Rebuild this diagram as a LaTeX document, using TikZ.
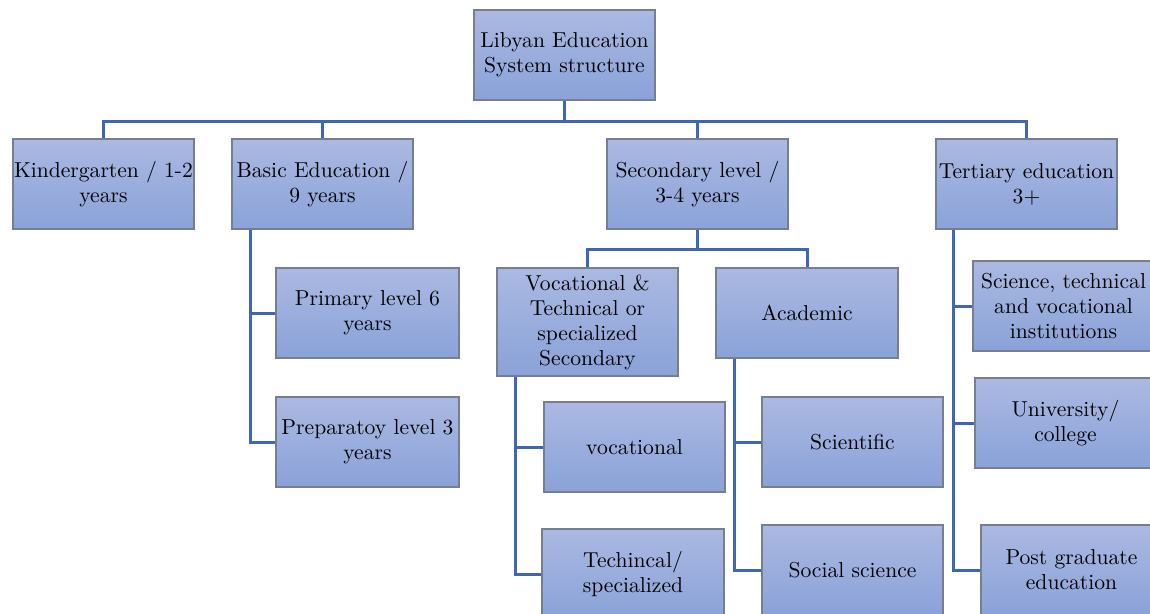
\documentclass[tikz,border=0pt]{standalone}
\usepackage{fontspec}
\newfontfamily\boxfont{lmroman10-regular}[Extension=.otf]
\definecolor{linecol}{RGB}{62,102,180}
\definecolor{boxtop}{RGB}{171,185,226}
\definecolor{boxbot}{RGB}{138,162,216}
\definecolor{boxedge}{RGB}{118,126,146}
\begin{document}
\begin{tikzpicture}[x=1pt,y=-1pt,
  box/.style={rectangle, draw=boxedge, line width=1.3pt, top color=boxtop, bottom color=boxbot,
    minimum width=181pt, minimum height=90pt, inner sep=0pt, align=center,
    font=\boxfont\fontsize{21.6pt}{25pt}\selectfont},
  conn/.style={draw=linecol, line width=3pt}]
\useasboundingbox (0,0) rectangle (1150,613);
\clip (0,0) rectangle (1150,613);
% coordinates for connector routing
\coordinate (bus) at (0,121);
\coordinate (secbus) at (0,249);
\coordinate (bv) at (250,0);
\coordinate (vv) at (515,0);
\coordinate (av) at (734,0);
\coordinate (tv) at (953,0);
% nodes
\node[box] (root) at (564.5,55) {Libyan Education\\System structure};
\node[box] (kg) at (103.5,184) {Kindergarten / 1-2\\years};
\node[box] (basic) at (322.5,184) {Basic Education /\\9 years};
\node[box] (sec) at (697.5,184) {Secondary level /\\3-4 years};
\node[box] (ter) at (1026.5,184) {Tertiary education\\3+};
\node[box, minimum width=183pt] (prim) at (367.5,313) {Primary level 6\\years};
\node[box, minimum width=183pt] (prep) at (367.5,442) {Preparatoy level 3\\years};
\node[box, minimum height=108pt] (voct) at (587.5,322) {Vocational \&\\Technical or\\specialized\\Secondary};
\node[box, minimum width=182pt] (acad) at (807,313) {Academic};
\node[box] (voc) at (634.5,447) {vocational};
\node[box, minimum width=182pt] (tech) at (633,574) {Techincal/\\specialized};
\node[box] (sci) at (852.5,442) {Scientific};
\node[box] (soc) at (852.5,570) {Social science};
\node[box] (stv) at (1063.5,306) {Science, technical\\and vocational\\institutions};
\node[box] (univ) at (1065.5,423) {University/\\college};
\node[box] (pg) at (1071.5,570) {Post graduate\\education};
% connectors
\draw[conn] (root.south) -- (root.south |- bus) -| (kg.north);
\draw[conn] (root.south |- bus) -| (basic.north);
\draw[conn] (root.south |- bus) -| (sec.north);
\draw[conn] (root.south |- bus) -| (ter.north);
\draw[conn] (sec.south) -- (sec.south |- secbus) -| (voct.north);
\draw[conn] (sec.south |- secbus) -| (acad.north);
\draw[conn] (bv |- basic.south) |- (prim.west);
\draw[conn] (bv |- basic.south) |- (prep.west);
\draw[conn] (vv |- voct.south) |- (voc.west);
\draw[conn] (vv |- voct.south) |- (tech.west);
\draw[conn] (av |- acad.south) |- (sci.west);
\draw[conn] (av |- acad.south) |- (soc.west);
\draw[conn] (tv |- ter.south) |- (stv.west);
\draw[conn] (tv |- ter.south) |- (univ.west);
\draw[conn] (tv |- ter.south) |- (pg.west);
\end{tikzpicture}
\end{document}
